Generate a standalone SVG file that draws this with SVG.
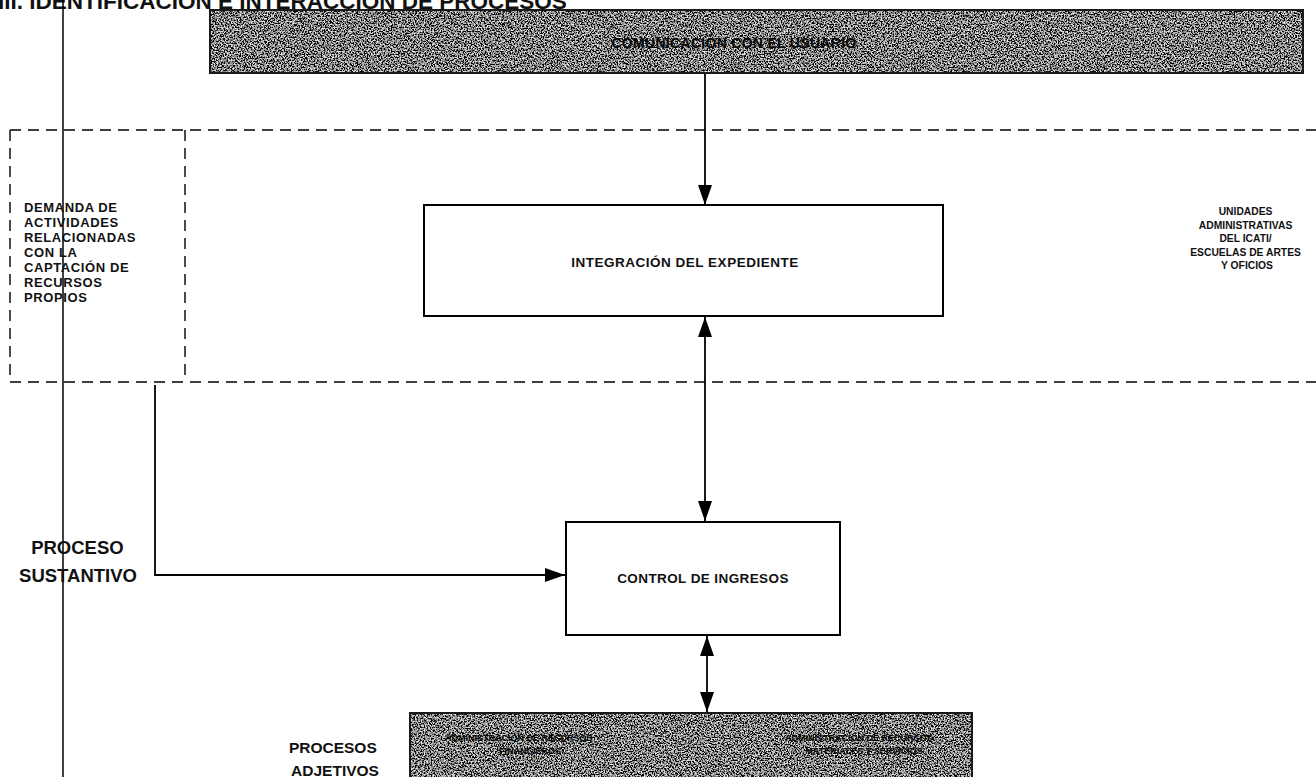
<svg xmlns="http://www.w3.org/2000/svg" width="1316" height="777" viewBox="0 0 1316 777">
<style>
  .lbl { font-family: "Liberation Sans", Arial, sans-serif; font-weight: bold; fill: #111; }
  .box { fill: #fff; stroke: #000; stroke-width: 2; }
  .bar { fill: #666; stroke: #1a1a1a; stroke-width: 2; }
  .dash { fill: none; stroke: #000; stroke-width: 1.4; stroke-dasharray: 11 7; }
  .conn { fill: none; stroke: #000; stroke-width: 1.8; }
  .bartext { font-family: "Liberation Sans", Arial, sans-serif; font-weight: bold; fill: #080808; }
</style>
<defs>
  <filter id="grain" x="0" y="0" width="100%" height="100%">
    <feTurbulence type="fractalNoise" baseFrequency="0.7" numOctaves="2" seed="7" result="n"/>
    <feColorMatrix in="n" type="matrix" values="3.2 0 0 0 -1.35  3.2 0 0 0 -1.35  3.2 0 0 0 -1.35  0 0 0 0 1" result="g"/>
    <feComposite in="g" in2="SourceAlpha" operator="in"/>
  </filter>
  <marker id="ah" viewBox="0 0 20 14" refX="20" refY="7" markerWidth="20" markerHeight="14" markerUnits="userSpaceOnUse" orient="auto-start-reverse">
    <path d="M0,0 L20,7 L0,14 Z" fill="#000"/>
  </marker>
</defs>
<rect width="1316" height="777" fill="#fff"/>

<text class="lbl" x="-2" y="9" font-size="22.5">III. IDENTIFICACIÓN E INTERACCIÓN DE PROCESOS</text>

<g id="frame">
  <line x1="63" y1="0" x2="63" y2="777" stroke="#000" stroke-width="1.5"/>
  <path class="dash" d="M10,130 H1316 M10,382 H1316 M10,130 V382 M185,130 V382"/>
</g>

<g id="connectors">
  <line class="conn" x1="705" y1="73" x2="705" y2="205" marker-end="url(#ah)"/>
  <line class="conn" x1="705" y1="317" x2="705" y2="521" marker-start="url(#ah)" marker-end="url(#ah)"/>
  <line class="conn" x1="707" y1="636" x2="707" y2="712" marker-start="url(#ah)" marker-end="url(#ah)"/>
  <path class="conn" d="M155,385 V575 H565" marker-end="url(#ah)"/>
</g>

<g id="comunicacion">
  <rect class="bar" x="210" y="10" width="1093" height="63"/>
  <rect x="210" y="10" width="1093" height="63" filter="url(#grain)" opacity="0.9"/>
  <rect x="210" y="10" width="1093" height="63" fill="none" stroke="#1a1a1a" stroke-width="2"/>
  <text class="bartext" x="734" y="48" font-size="14" text-anchor="middle" letter-spacing="0.3">COMUNICACIÓN CON EL USUARIO</text>
</g>

<g id="demanda">
  <text class="lbl" font-size="13" letter-spacing="0.6">
    <tspan x="24" y="212">DEMANDA DE</tspan>
    <tspan x="24" y="227">ACTIVIDADES</tspan>
    <tspan x="24" y="242">RELACIONADAS</tspan>
    <tspan x="24" y="257">CON LA</tspan>
    <tspan x="24" y="272">CAPTACIÓN DE</tspan>
    <tspan x="24" y="287">RECURSOS</tspan>
    <tspan x="24" y="302">PROPIOS</tspan>
  </text>
</g>

<g id="unidades">
  <text class="lbl" font-size="10.3" text-anchor="middle">
    <tspan x="1247" y="215">UNIDADES</tspan>
    <tspan x="1247" y="228.5">ADMINISTRATIVAS</tspan>
    <tspan x="1247" y="242">DEL ICATI/</tspan>
    <tspan x="1247" y="255.5">ESCUELAS DE ARTES</tspan>
    <tspan x="1247" y="269">Y OFICIOS</tspan>
  </text>
</g>

<g id="integracion">
  <rect class="box" x="424" y="205" width="519" height="111"/>
  <text class="lbl" x="685" y="267" font-size="13.5" text-anchor="middle" letter-spacing="0.5">INTEGRACIÓN DEL EXPEDIENTE</text>
</g>

<g id="control">
  <rect class="box" x="566" y="522" width="274" height="113"/>
  <text class="lbl" x="703" y="583" font-size="13.5" text-anchor="middle" letter-spacing="0.4">CONTROL DE INGRESOS</text>
</g>

<g id="proceso-sustantivo">
  <text class="lbl" font-size="18.5" text-anchor="middle">
    <tspan x="80" y="554">PROCESO</tspan>
    <tspan x="78" y="582">SUSTANTIVO</tspan>
  </text>
</g>

<g id="procesos-adjetivos">
  <text class="lbl" font-size="15.5" text-anchor="middle">
    <tspan x="335" y="753">PROCESOS</tspan>
    <tspan x="335" y="776">ADJETIVOS</tspan>
  </text>
</g>

<g id="adjetivos">
  <rect class="bar" x="410" y="713" width="562" height="70"/>
  <rect x="410" y="713" width="562" height="70" filter="url(#grain)" opacity="0.9"/>
  <rect x="410" y="713" width="562" height="70" fill="none" stroke="#1a1a1a" stroke-width="2"/>
  <text class="bartext" font-size="9" text-anchor="middle">
    <tspan x="520" y="741">ADMINISTRACIÓN DE RECURSOS</tspan>
    <tspan x="530" y="754">FINANCIEROS</tspan>
  </text>
  <text class="bartext" font-size="9" text-anchor="middle">
    <tspan x="860" y="741">ADMINISTRACIÓN DE RECURSOS</tspan>
    <tspan x="864" y="754">MATERIALES Y SERVICIOS</tspan>
  </text>
</g>
</svg>
